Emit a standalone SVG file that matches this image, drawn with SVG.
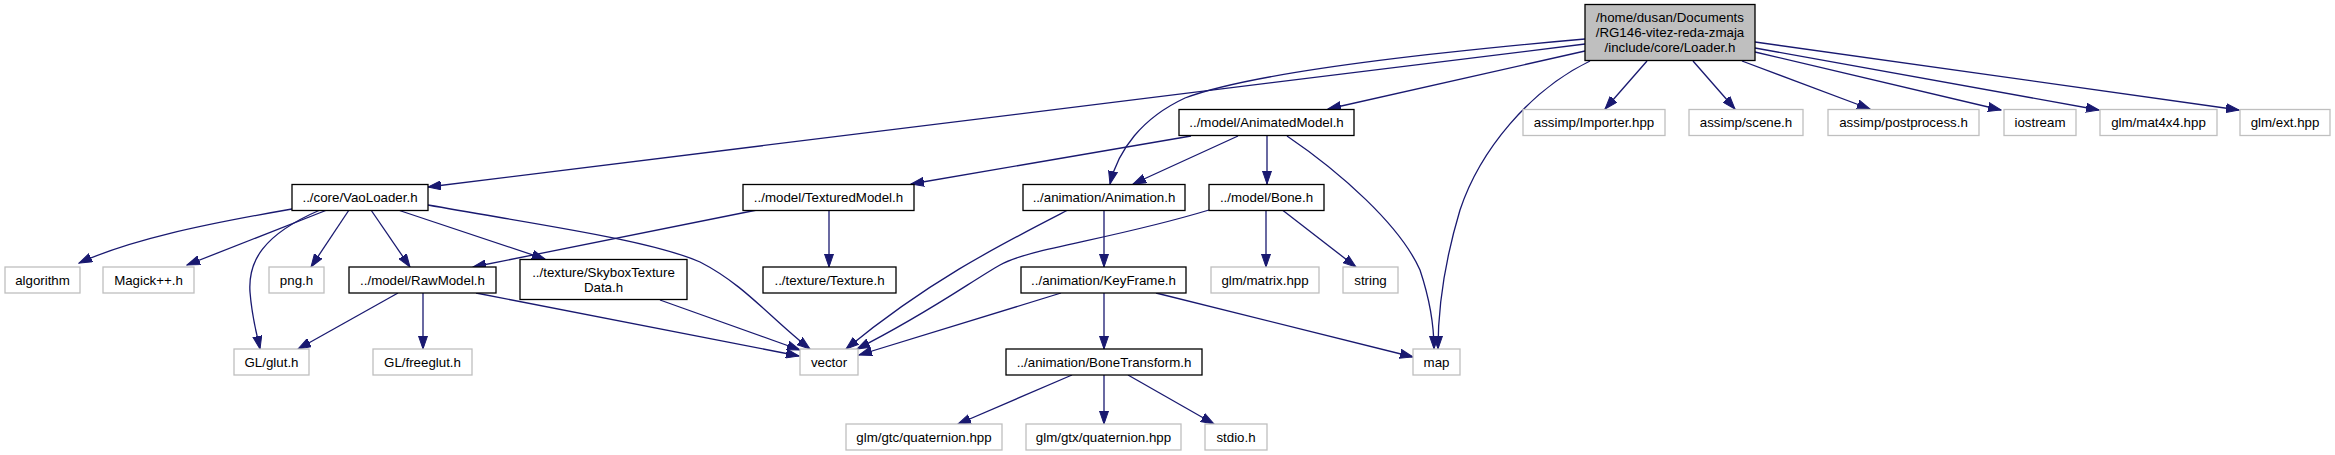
<svg xmlns="http://www.w3.org/2000/svg" width="2335" height="455" viewBox="0 0 2335 455">
<style>
.n rect{fill:#fff;stroke:#000;stroke-width:1.3}
.x rect{fill:#fff;stroke:#bfbfbf;stroke-width:1.3}
.r rect{fill:#bfbfbf;stroke:#000;stroke-width:1.3}
text{font-family:"Liberation Sans",Arial,Helvetica,sans-serif;font-size:13.3px;text-anchor:middle;fill:#000}
.e path{fill:none;stroke:#191970;stroke-width:1.3;marker-end:url(#a)}
</style>
<defs>
<marker id="a" markerUnits="userSpaceOnUse" markerWidth="14" markerHeight="10" viewBox="0 0 14 10" refX="13" refY="5" orient="auto">
<path d="M0,0.5 L13,5 L0,9.5 Z" fill="#191970" stroke="#191970" stroke-width="1"/>
</marker>
</defs>
<rect width="2335" height="455" fill="#fff"/>
<g class="e" id="edges">
<path d="M1585,44 L428,187"/>
<path d="M1585,39 C1380,57 1240,77 1185,98 C1142,118 1118,150 1110,184"/>
<path d="M1585,51 L1328,109"/>
<path d="M1590,61 C1530,90 1480,150 1460,210 C1445,260 1438,310 1438,349"/>
<path d="M1647,61 L1605,109"/>
<path d="M1693,61 L1735,109"/>
<path d="M1742,61 L1870,109"/>
<path d="M1755,52 L2001,110"/>
<path d="M1755,48 L2099,110"/>
<path d="M1755,42 L2239,110"/>
<path d="M1191,136 L911,184"/>
<path d="M1238,136 L1133,184"/>
<path d="M1267,136 L1267,184"/>
<path d="M1287,136 C1340,172 1400,225 1420,270 C1430,300 1434,325 1434,349"/>
<path d="M292,209 C200,225 130,240 79,263"/>
<path d="M327,210 L187,265"/>
<path d="M320,210 C262,235 248,262 250,292 C252,318 256,330 260,349"/>
<path d="M349,210 L311,267"/>
<path d="M371,210 L410,267"/>
<path d="M398,210 L545,259"/>
<path d="M428,205 C540,225 650,240 700,262 C745,285 770,318 810,349"/>
<path d="M757,210 L473,267"/>
<path d="M829,210.5 L829,267"/>
<path d="M398,293 L298,349"/>
<path d="M423,293 L423,349"/>
<path d="M476,293 L799,356"/>
<path d="M660,300 L800,350"/>
<path d="M1068,210 C1000,245 930,280 846,349"/>
<path d="M1104,210.5 L1104,267"/>
<path d="M1209,210 C1110,240 1030,248 1000,265 C970,282 930,312 857,349"/>
<path d="M1266,210.5 L1266,267"/>
<path d="M1283,210.5 L1356,267"/>
<path d="M1061,293 L859,355"/>
<path d="M1104,293 L1104,349"/>
<path d="M1156,293 L1413,357"/>
<path d="M1072,375 L958,424"/>
<path d="M1104,375 L1104,424"/>
<path d="M1128,375 L1214,424"/>
</g>
<g id="loader" class="r"><rect x="1585" y="4.5" width="170" height="56"/><text x="1670" y="22">/home/dusan/Documents</text><text x="1670" y="37">/RG146-vitez-reda-zmaja</text><text x="1670" y="52">/include/core/Loader.h</text></g>
<g id="animatedmodel" class="n"><rect x="1179" y="109.5" width="175" height="26"/><text x="1266.5" y="127">../model/AnimatedModel.h</text></g>
<g id="importer" class="x"><rect x="1523" y="109.5" width="142" height="26"/><text x="1594" y="127">assimp/Importer.hpp</text></g>
<g id="scene" class="x"><rect x="1689" y="109.5" width="114" height="26"/><text x="1746" y="127">assimp/scene.h</text></g>
<g id="postprocess" class="x"><rect x="1828" y="109.5" width="151" height="26"/><text x="1903.5" y="127">assimp/postprocess.h</text></g>
<g id="iostream" class="x"><rect x="2004" y="109.5" width="72" height="26"/><text x="2040" y="127">iostream</text></g>
<g id="mat4x4" class="x"><rect x="2100" y="109.5" width="117" height="26"/><text x="2158.5" y="127">glm/mat4x4.hpp</text></g>
<g id="ext" class="x"><rect x="2240" y="109.5" width="90" height="26"/><text x="2285" y="127">glm/ext.hpp</text></g>
<g id="vaoloader" class="n"><rect x="292" y="184.5" width="136" height="26"/><text x="360" y="202">../core/VaoLoader.h</text></g>
<g id="texturedmodel" class="n"><rect x="743" y="184.5" width="171" height="26"/><text x="828.5" y="202">../model/TexturedModel.h</text></g>
<g id="animation" class="n"><rect x="1023" y="184.5" width="162" height="26"/><text x="1104" y="202">../animation/Animation.h</text></g>
<g id="bone" class="n"><rect x="1209" y="184.5" width="115" height="26"/><text x="1266.5" y="202">../model/Bone.h</text></g>
<g id="algorithm" class="x"><rect x="5" y="267" width="75" height="26"/><text x="42.5" y="284.5">algorithm</text></g>
<g id="magick" class="x"><rect x="103" y="267" width="91" height="26"/><text x="148.5" y="284.5">Magick++.h</text></g>
<g id="png" class="x"><rect x="269" y="267" width="55" height="26"/><text x="296.5" y="284.5">png.h</text></g>
<g id="rawmodel" class="n"><rect x="349" y="267" width="147" height="26"/><text x="422.5" y="284.5">../model/RawModel.h</text></g>
<g id="skybox" class="n"><rect x="520" y="259.5" width="167" height="40"/><text x="603.5" y="276.5">../texture/SkyboxTexture</text><text x="603.5" y="291.5">Data.h</text></g>
<g id="texture" class="n"><rect x="763" y="267" width="133" height="26"/><text x="829.5" y="284.5">../texture/Texture.h</text></g>
<g id="keyframe" class="n"><rect x="1021" y="267" width="165" height="26"/><text x="1103.5" y="284.5">../animation/KeyFrame.h</text></g>
<g id="matrix" class="x"><rect x="1211" y="267" width="108" height="26"/><text x="1265" y="284.5">glm/matrix.hpp</text></g>
<g id="string" class="x"><rect x="1343" y="267" width="55" height="26"/><text x="1370.5" y="284.5">string</text></g>
<g id="glut" class="x"><rect x="234" y="349" width="75" height="26"/><text x="271.5" y="366.5">GL/glut.h</text></g>
<g id="freeglut" class="x"><rect x="373" y="349" width="99" height="26"/><text x="422.5" y="366.5">GL/freeglut.h</text></g>
<g id="vector" class="x"><rect x="800" y="349" width="58" height="26"/><text x="829" y="366.5">vector</text></g>
<g id="bonetransform" class="n"><rect x="1006" y="349" width="196" height="26"/><text x="1104" y="366.5">../animation/BoneTransform.h</text></g>
<g id="map" class="x"><rect x="1413" y="349" width="47" height="26"/><text x="1436.5" y="366.5">map</text></g>
<g id="gtcquat" class="x"><rect x="846" y="424" width="156" height="26"/><text x="924" y="441.5">glm/gtc/quaternion.hpp</text></g>
<g id="gtxquat" class="x"><rect x="1026" y="424" width="155" height="26"/><text x="1103.5" y="441.5">glm/gtx/quaternion.hpp</text></g>
<g id="stdio" class="x"><rect x="1205" y="424" width="62" height="26"/><text x="1236" y="441.5">stdio.h</text></g>
</svg>
